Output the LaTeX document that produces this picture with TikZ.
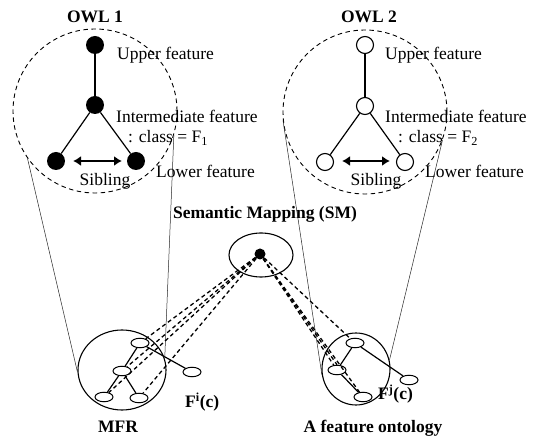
\documentclass[tikz,border=0pt]{standalone}
\usepackage{fontspec}
\setmainfont{Liberation Serif}
\usetikzlibrary{shapes.geometric,arrows.meta}
\begin{document}
\begin{tikzpicture}[x=1pt,y=-1pt,
  txt/.style={font=\fontsize{17.5pt}{20pt}\selectfont, inner sep=0pt, anchor=base west},
  ttl/.style={font=\fontsize{17.5pt}{20pt}\selectfont\bfseries, inner sep=0pt, anchor=base},
  owlring/.style={circle, draw, dash pattern=on 4.5pt off 3.5pt, line width=0.9pt, minimum size=164pt, inner sep=0pt},
  fullnode/.style={circle, fill=black, minimum size=18pt, inner sep=0pt},
  opennode/.style={circle, draw, fill=white, line width=1.1pt, minimum size=17pt, inner sep=0pt},
  tree/.style={line width=1.2pt},
  sib/.style={{Latex[length=8pt,width=10pt]}-{Latex[length=8pt,width=10pt]}, line width=2.6pt},
  zoomring/.style={ellipse, draw, line width=1.1pt, inner sep=0pt},
  leaf/.style={ellipse, draw, fill=white, line width=1pt, minimum width=18pt, minimum height=9.5pt, inner sep=0pt},
  proj/.style={line width=0.5pt, black!85},
  maplink/.style={line width=1.3pt, dash pattern=on 4pt off 3pt}
]
\useasboundingbox (0,0) rectangle (539,438);

% ---------- OWL 1 ----------
\node[ttl] (t1) at (95,23) {OWL 1};
\node[owlring] (ring1) at (95,111) {};
\node[fullnode] (u1) at (95,45) {};
\node[fullnode] (i1) at (95,105) {};
\node[fullnode] (l1) at (56,161) {};
\node[fullnode] (r1) at (136,161) {};
\draw[tree] (u1) -- (i1);
\draw[tree] (i1) -- (l1);
\draw[tree] (i1) -- (r1);
\coordinate (sa1) at (73,161);
\coordinate (sb1) at (122,161);
\draw[sib] (sa1) -- (sb1);
\node[txt] (up1) at (117,60) {Upper feature};
\node[txt] (im1) at (116,123) {Intermediate feature};
\node[txt] (cl1) at (128,143) {: class = F\textsubscript{1}};
\node[txt] (lo1) at (156,178) {Lower feature};
\node[txt, anchor=base] (sg1) at (105,186) {Sibling};

% ---------- OWL 2 ----------
\node[ttl] (t2) at (369,23) {OWL 2};
\node[owlring] (ring2) at (365,112) {};
\node[opennode] (u2) at (365,45) {};
\node[opennode] (i2) at (365,106) {};
\node[opennode] (l2) at (325,162) {};
\node[opennode] (r2) at (405,162) {};
\draw[tree] (u2) -- (i2);
\draw[tree] (i2) -- (l2);
\draw[tree] (i2) -- (r2);
\coordinate (sa2) at (342,161);
\coordinate (sb2) at (390,161);
\draw[sib] (sa2) -- (sb2);
\node[txt] (up2) at (385,60) {Upper feature};
\node[txt] (im2) at (385,123) {Intermediate feature};
\node[txt] (cl2) at (398,143) {: class = F\textsubscript{2}};
\node[txt] (lo2) at (425,178) {Lower feature};
\node[txt, anchor=base] (sg2) at (376,186) {Sibling};

% ---------- semantic mapping ----------
\node[ttl] (smt) at (265,219) {Semantic Mapping (SM)};
\node[zoomring, minimum width=64pt, minimum height=44pt] (sm) at (261,255) {};
\node[circle, fill=black, minimum size=11pt, inner sep=0pt] (dot) at (260,254) {};

% ---------- MFR ----------
\node[zoomring, minimum width=88pt, minimum height=80pt] (mfr) at (122,370) {};
\node[leaf] (n1) at (140,343) {};
\node[leaf] (n2) at (122,371) {};
\node[leaf] (n3) at (104,397) {};
\node[leaf] (n4) at (139,398) {};
\node[leaf] (n5) at (192,372) {};
\draw[tree] (n1) -- (n2);
\draw[tree] (n2) -- (n3);
\draw[tree] (n2) -- (n4);
\draw[tree] (n1) -- (n5);
\node[ttl, anchor=base west] (fi) at (185,408) {F\textsuperscript{i}(c)};
\node[ttl] (mfrt) at (118,433) {MFR};

% ---------- feature ontology ----------
\node[zoomring, minimum width=68pt, minimum height=72pt] (fo) at (356,369) {};
\node[leaf] (m1) at (355,343) {};
\node[leaf] (m2) at (337,370) {};
\node[leaf] (m3) at (363,397) {};
\node[leaf] (m4) at (409,380) {};
\draw[tree] (m1) -- (m2);
\draw[tree] (m2) -- (m3);
\draw[tree] (m1) -- (m4);
\node[ttl, anchor=base west] (fj) at (378,400) {F\textsuperscript{j}(c)};
\node[ttl] (fot) at (373,433) {A feature ontology};

% ---------- projection cones ----------
\draw[proj] (ring1.215) -- (mfr.183);
\draw[proj] (ring1.343) -- (mfr.15);
\draw[proj] (ring2.186) -- (fo.190);
\draw[proj] (ring2.340) -- (fo.15);

% ---------- mapping links ----------
\draw[maplink] (dot) -- (n1);
\draw[maplink] (dot) -- (n2);
\draw[maplink] (dot) -- (n3);
\draw[maplink] (dot) -- (n4);
\draw[maplink] (dot) -- (m1);
\draw[maplink] (dot) -- (m2.north);
\draw[maplink] (dot) -- (m2);
\draw[maplink] (dot) -- (m3);
\end{tikzpicture}
\end{document}
